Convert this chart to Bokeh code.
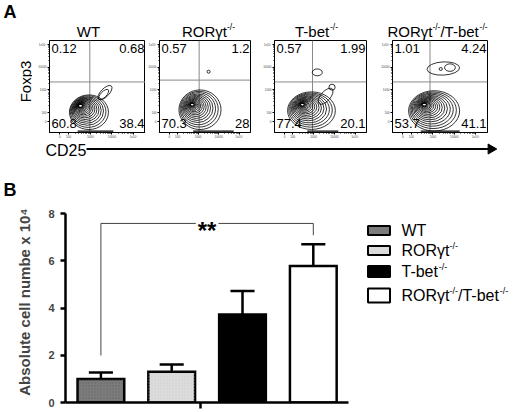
import math
from bokeh.plotting import figure
from bokeh.layouts import column, row
from bokeh.models import Range1d, FixedTicker
from bokeh.core.properties import value
from bokeh.embed import file_html
from bokeh.resources import INLINE

FONT = "Liberation Sans"

# ---------------- data ----------------
# group names, split in (text, superscript?) pieces
group_parts = [
    [("WT", False)],
    [("RORγt", False), ("-/-", True)],
    [("T-bet", False), ("-/-", True)],
    [("RORγt", False), ("-/-", True), ("/T-bet", False), ("-/-", True)],
]

# Panel A: quadrant percentages (upper-left, upper-right, lower-left, lower-right)
q_ul = ["0.12", "0.57", "0.57", "1.01"]
q_ur = ["0.68", "1.2", "1.99", "4.24"]
q_ll = ["60.8", "70.3", "77.4", "53.7"]
q_lr = ["38.4", "28", "20.1", "41.1"]
gate_x = [2.98, 3.05, 2.95, 2.87]      # CD25 gate (log10 units)
gate_y = [3.35, 3.43, 3.35, 3.35]      # Foxp3 gate
flow_ticks = [1.6, 2, 3, 4, 5]
flow_tick_labels = ["0", "100", "1000", "10000", "1x10⁵"]

# main population contour: innermost level -> outermost level (log10 units)
pop_core_x = [2.55, 2.71, 2.46, 2.60]
pop_core_y = [2.30, 2.35, 2.35, 2.35]
pop_core_w = [0.20, 0.18, 0.18, 0.20]
pop_core_h = [0.12, 0.11, 0.11, 0.11]
pop_out_x = [2.94, 3.09, 2.90, 3.06]
pop_out_y = [2.02, 2.13, 2.09, 2.08]
pop_out_w = [1.80, 2.05, 2.30, 2.38]
pop_out_h = [1.52, 1.74, 1.65, 1.77]
pop_levels = [18, 17, 18, 18]

# extra contour islands / lobes
isl_panel = [0, 0, 1, 2, 2, 2, 3, 3, 3]
isl_x = [3.68, 3.62, 3.51, 3.58, 3.89, 3.18, 3.49, 3.37, 3.80]
isl_y = [2.88, 2.80, 3.80, 2.72, 3.12, 3.77, 3.94, 3.92, 3.98]
isl_w = [0.85, 0.60, 0.15, 0.95, 0.30, 0.48, 1.52, 0.15, 0.50]
isl_h = [0.36, 0.25, 0.13, 0.42, 0.26, 0.30, 0.58, 0.13, 0.33]
isl_a = [0.80, 0.80, 0.00, 0.85, 0.00, 0.00, 0.05, 0.00, 0.00]

# contour squeezed against the CD25 axis
base_x0 = [2.42, 2.76, 2.70, 2.44]
base_x1 = [4.07, 4.73, 4.19, 4.25]
base_y = 1.19

# Panel B
bar_x = [1, 2, 3, 4]
bar_mean = [1.00, 1.30, 3.72, 5.78]
bar_err = [0.27, 0.31, 1.00, 0.92]
bar_fill = ["#7c7c7c", "#dcdcdc", "#000000", "#ffffff"]
y_ticks = [0, 2, 4, 6, 8]
x_tick = [2.4]
sig_from, sig_to = 1, 4
sig_y = 7.58
sig_feet = [1.99, 7.08]
sig_text = "**"

# ---------------- helpers ----------------
WID = {"R": .722, "O": .778, "γ": .5, "t": .278, "T": .611, "-": .333,
       "b": .556, "e": .556, "/": .278, "W": .944}


def tw(s, size):
    return sum(WID.get(c, .556) for c in s) * size


def rich(p, x, y, parts, size, sup, align="center", y_off=0.0):
    """text pieces with superscripts; y is the top of the main text's em box"""
    widths = [tw(t, sup if s else size) for t, s in parts]
    off = -sum(widths) / 2 if align == "center" else 0.0
    for (t, s), w in zip(parts, widths):
        p.text(x=[x], y=[y], text=[t], x_offset=off,
               y_offset=y_off - (1.0 if s else 0.0),
               text_font=value(FONT), text_font_size=value(f"{sup if s else size}px"),
               text_align="left", text_baseline="top", text_color="black")
        off += w


def strip(w, h, top, left=0):
    # a borderless figure whose data units are page pixels (y negated)
    p = figure(width=w, height=h, output_backend="svg", toolbar_location=None,
               x_range=Range1d(left, left + w), y_range=Range1d(-(top + h), -top),
               x_axis_type=None, y_axis_type=None,
               min_border_left=0, min_border_right=0, min_border_top=0, min_border_bottom=0)
    p.outline_line_color = None
    p.grid.visible = False
    return p


# ---------------- Panel A title strip ----------------
title_strip = strip(520, 40, 0)
title_strip.text(x=[3], y=[-1.6], text=["A"], text_font=value(FONT), text_font_size=value("18px"),
                 text_font_style="bold", text_align="left", text_baseline="top")
title_centers = [88, 208, 316, 437]
for c, parts in zip(title_centers, group_parts):
    rich(title_strip, c, -22, parts, 15, 8.5)

# ---------------- Panel A flow plots ----------------
FLOW_H = 101
lab = strip(32, FLOW_H, 40)
lab.text(x=[16], y=[-85], text=["Foxp3"], angle=math.pi / 2, text_font=value(FONT),
         text_font_size=value("15px"), text_align="center", text_baseline="top")

XR = (1.12, 5.55)
YR = (1.13, 5.17)
borders = [(17, 0, 96), (12, 10, 93), (12, 12, 94), (14, 33, 95)]
minor = [d + math.log10(k) for d in (2, 3, 4) for k in range(2, 10)]
flows = []
for i, (bl, br, fw) in enumerate(borders):
    p = figure(width=bl + fw + br, height=FLOW_H, output_backend="svg", toolbar_location=None,
               x_range=Range1d(*XR), y_range=Range1d(*YR),
               min_border_left=bl, min_border_right=br, min_border_top=0, min_border_bottom=8)
    p.grid.visible = False
    p.outline_line_color = "black"
    p.outline_line_width = 1
    for ax in (p.xaxis[0], p.yaxis[0]):
        ax.ticker = FixedTicker(ticks=flow_ticks, minor_ticks=minor)
        ax.major_label_overrides = {t: l for t, l in zip(flow_ticks, flow_tick_labels)}
        ax.major_label_text_font_size = "3px"
        ax.major_label_text_font = FONT
        ax.major_label_standoff = 1
        ax.major_tick_out = 2
        ax.major_tick_in = 0
        ax.minor_tick_out = 1
        ax.minor_tick_in = 0
        ax.axis_line_color = "black"
    # gates
    p.segment(x0=[gate_x[i], XR[0]], y0=[YR[0], gate_y[i]], x1=[gate_x[i], XR[1]], y1=[YR[1], gate_y[i]],
              line_color="#8a8a8a", line_width=1)
    # nested contours of the main population
    n = pop_levels[i]
    xs, ys, ws, hs = [], [], [], []
    for k in range(n):
        t = (k / (n - 1)) ** 1.7
        xs.append(pop_core_x[i] + t * (pop_out_x[i] - pop_core_x[i]))
        ys.append(pop_core_y[i] + t * (pop_out_y[i] - pop_core_y[i]))
        ws.append(pop_core_w[i] + t * (pop_out_w[i] - pop_core_w[i]))
        hs.append(pop_core_h[i] + t * (pop_out_h[i] - pop_core_h[i]))
    p.ellipse(x=xs, y=ys, width=ws, height=hs, fill_color=None, line_color="black", line_width=0.8)
    sel = [j for j, pi in enumerate(isl_panel) if pi == i]
    if sel:
        p.ellipse(x=[isl_x[j] for j in sel], y=[isl_y[j] for j in sel],
                  width=[isl_w[j] for j in sel], height=[isl_h[j] for j in sel],
                  angle=[isl_a[j] for j in sel], fill_color=None, line_color="black", line_width=0.8)
    p.segment(x0=[base_x0[i]], y0=[base_y], x1=[base_x1[i]], y1=[base_y], line_color="black", line_width=1.2)
    # quadrant percentages
    common = dict(text_font=value(FONT), text_font_size=value("13px"), text_color="black",
                  text_baseline="top")
    p.text(x=[XR[0]], y=[YR[1]], text=[q_ul[i]], x_offset=2, y_offset=3, text_align="left", **common)
    p.text(x=[XR[1]], y=[YR[1]], text=[q_ur[i]], x_offset=-1, y_offset=3, text_align="right", **common)
    p.text(x=[XR[0]], y=[YR[0]], text=[q_ll[i]], x_offset=2, y_offset=-13.5, text_align="left", **common)
    p.text(x=[XR[1]], y=[YR[0]], text=[q_lr[i]], x_offset=-1, y_offset=-13.5, text_align="right", **common)
    flows.append(p)

# CD25 strip with arrow
cd = strip(520, 21, 141)
cd.text(x=[45], y=[-141.5], text=["CD25"], text_font=value(FONT), text_font_size=value("16px"),
        text_align="left", text_baseline="top")
cd.segment(x0=[86], y0=[-148.5], x1=[488], y1=[-148.5], line_color="black", line_width=2)
cd.scatter(x=[490.5], y=[-148.5], marker="triangle", size=10, angle=-math.pi / 2,
           fill_color="black", line_color="black")

# ---------------- Panel B ----------------
stripB = strip(520, 39, 162)
stripB.text(x=[3], y=[-179.6], text=["B"], text_font=value(FONT), text_font_size=value("18px"),
            text_font_style="bold", text_align="left", text_baseline="top")

PX_X = 70.8
BL = 65
frame_w = 520 - BL
FRAME_H = 201
pB = figure(width=520, height=FRAME_H + 8, output_backend="svg", toolbar_location=None,
            x_range=Range1d(0.5, 0.5 + frame_w / PX_X), y_range=Range1d(0, 8.508),
            min_border_left=BL, min_border_right=0, min_border_top=0, min_border_bottom=8)
pB.grid.visible = False
pB.outline_line_color = None

ya = pB.yaxis[0]
ya.ticker = FixedTicker(ticks=y_ticks)
ya.bounds = (y_ticks[0], y_ticks[-1])
ya.axis_line_width = 2.5
ya.major_tick_line_width = 2.5
ya.major_tick_out = 5
ya.major_tick_in = 0
ya.minor_tick_line_color = None
ya.major_label_text_font = FONT
ya.major_label_text_font_size = "11px"
ya.major_label_text_font_style = "bold"
ya.major_label_standoff = 6
ya.axis_label = "Absolute cell numbe x 10⁴"
ya.axis_label_text_font = FONT
ya.axis_label_text_font_size = "15px"
ya.axis_label_text_font_style = "bold"
ya.axis_label_standoff = 12

xa = pB.xaxis[0]
xa.ticker = FixedTicker(ticks=x_tick)
xa.bounds = (0.5, 4.5)
xa.axis_line_width = 2.5
xa.major_tick_line_width = 2.5
xa.major_tick_out = 6
xa.major_tick_in = 0
xa.minor_tick_line_color = None
xa.major_label_text_font_size = "0px"
xa.major_label_standoff = 0
xa.major_label_overrides = {x_tick[0]: ""}

# error bars
cap = 0.17
tops = [m + e for m, e in zip(bar_mean, bar_err)]
pB.segment(x0=bar_x, y0=bar_mean, x1=bar_x, y1=tops, line_color="black", line_width=2.5)
pB.segment(x0=[x - cap for x in bar_x], y0=tops, x1=[x + cap for x in bar_x], y1=tops,
           line_color="black", line_width=2.5)
# bars
pB.vbar(x=bar_x, top=bar_mean, bottom=0, width=0.66, fill_color=bar_fill,
        line_color="black", line_width=2.5, line_join="miter")
pB.vbar(x=bar_x[:2], top=bar_mean[:2], bottom=0, width=0.66, fill_color=None, line_color=None,
        hatch_pattern=".", hatch_color=["#5c5c5c", "#c4c4c4"], hatch_scale=3, hatch_alpha=0.6)

# significance bracket
mid = (sig_from + sig_to) / 2
gap = 0.16
br_col = "#444444"
pB.segment(x0=[sig_from, sig_from, mid + gap, sig_to], y0=[sig_feet[0], sig_y, sig_y, sig_y],
           x1=[sig_from, mid - gap, sig_to, sig_to], y1=[sig_y, sig_y, sig_y, sig_feet[1]],
           line_color=br_col, line_width=1)
pB.text(x=[mid], y=[sig_y], text=[sig_text], y_offset=-6.7, text_font=value(FONT),
        text_font_size=value("24px"), text_font_style="bold", text_align="center",
        text_baseline="top")

# legend (drawn by hand)
px_per_y = FRAME_H / 8.508
leg_box_x = 0.5 + (378.5 - BL) / PX_X
leg_text_x = 0.5 + (401 - BL) / PX_X
leg_y = (402 - 230) / px_per_y
row_off = [0, 20, 41, 65]
box_h = [9, 9, 11, 14]
for k in range(4):
    yk = leg_y - row_off[k] / px_per_y
    pB.rect(x=[leg_box_x], y=[yk], width=22, height=box_h[k], width_units="screen",
            height_units="screen", fill_color=bar_fill[k], line_color="black", line_width=2)
    rich(pB, leg_text_x, yk, group_parts[k], 16, 9, align="left", y_off=-8.7)

layout = column(row(title_strip), row(lab, *flows), row(cd), row(stripB), row(pB))
open("out.html", "w").write(file_html(layout, INLINE))
